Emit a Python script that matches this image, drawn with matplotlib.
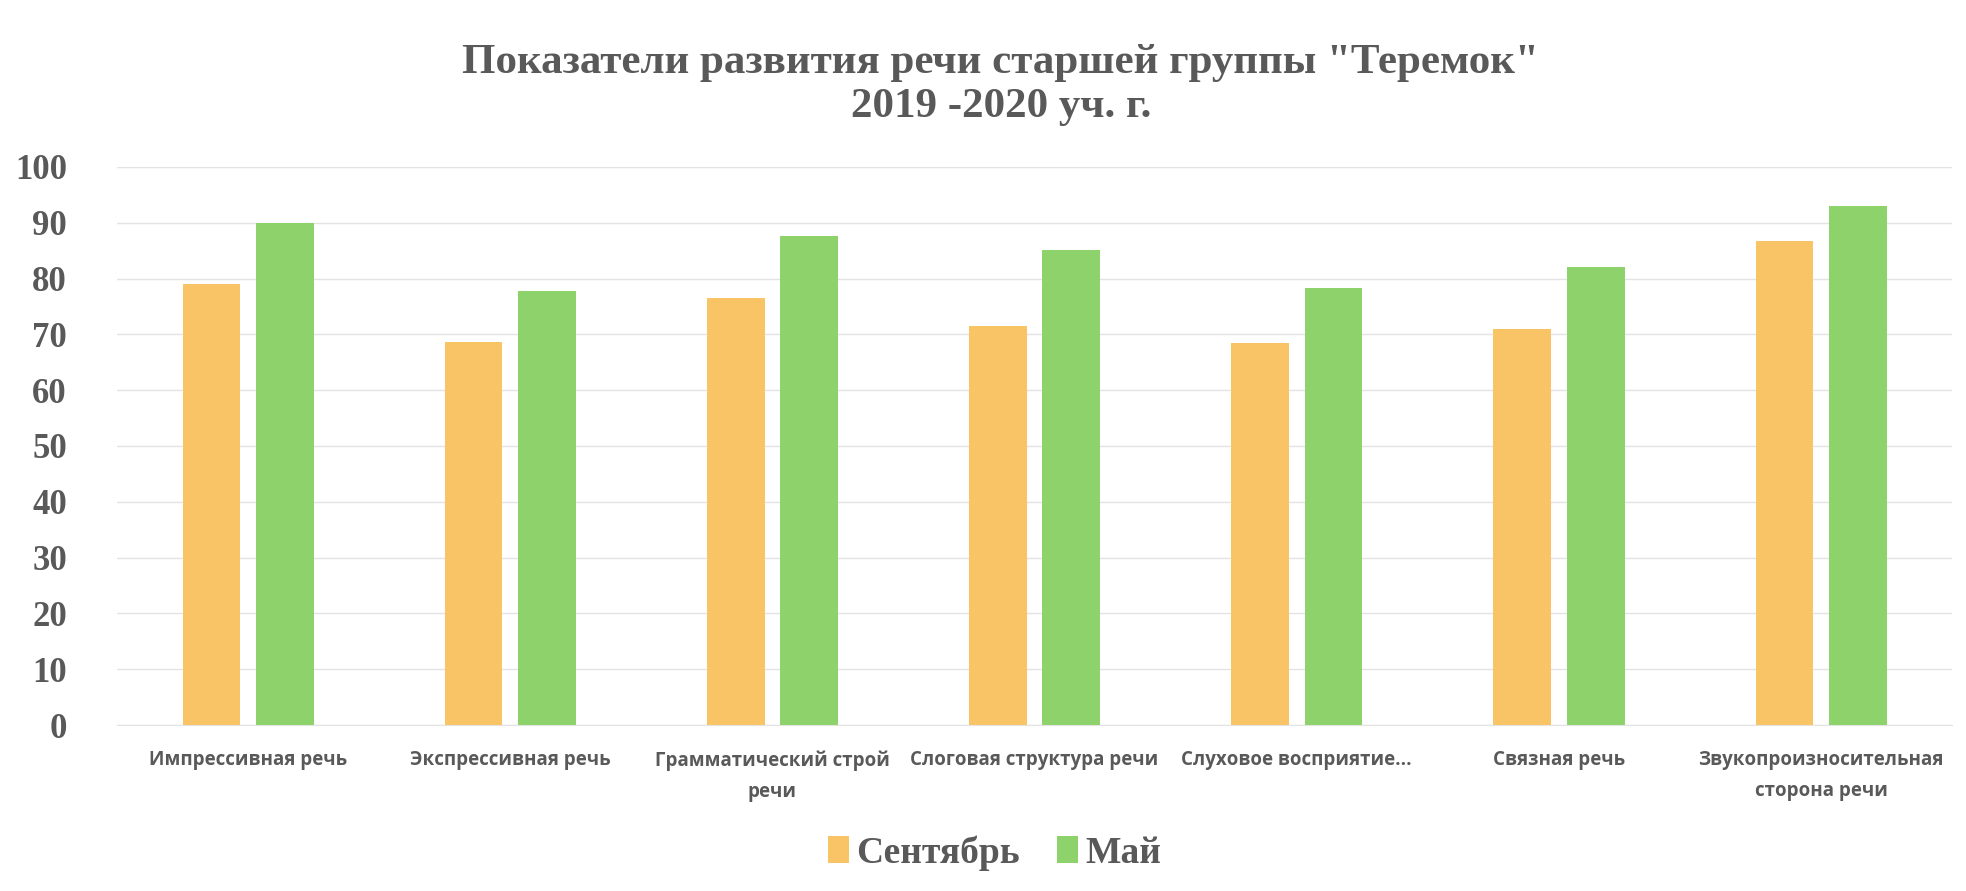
import matplotlib
matplotlib.use("Agg")
import matplotlib.pyplot as plt
import numpy as np

# Data
categories = [
    "Импрессивная речь",
    "Экспрессивная речь",
    "Грамматический строй\nречи",
    "Слоговая структура речи",
    "Слуховое восприятие...",
    "Связная речь",
    "Звукопроизносительная\nсторона речи",
]
september = [79, 68.7, 76.5, 71.5, 68.5, 71, 86.7]
may = [90, 77.7, 87.6, 85.2, 78.4, 82, 93]
series_names = ["Сентябрь", "Май"]
yticks = list(range(0, 101, 10))

title = 'Показатели развития речи старшей группы "Теремок"\n2019 -2020 уч. г.'

sept_color = "#F8C465"
may_color = "#8ED26C"
text_gray = "#595959"

fig = plt.figure(figsize=(19.66, 8.91), dpi=100)
ax = fig.add_axes([0.0595, 0.1863, 0.9335, 0.6263])

x = np.arange(len(categories))
w = 0.22
off = 0.14
ax.bar(x - off, september, width=w, color=sept_color, label=series_names[0], zorder=3)
ax.bar(x + off, may, width=w, color=may_color, label=series_names[1], zorder=3)

ax.set_xlim(-0.5, len(categories) - 0.5)
ax.set_ylim(0, 100)
ax.set_yticks(yticks)
ax.set_yticklabels([str(t) for t in yticks], fontfamily="Liberation Serif",
                   fontweight="bold", fontsize=25, color=text_gray)
ax.set_xticks(x)
ax.set_xticklabels(categories, fontfamily="Open Sans", fontweight="bold",
                   fontsize=13.5, color=text_gray, linespacing=1.75)
ax.tick_params(axis="y", length=0, pad=36)
ax.tick_params(axis="x", length=0, pad=18)

ax.grid(axis="y", color="#E3E3E3", linewidth=1, zorder=0)
for s in ["top", "right", "left"]:
    ax.spines[s].set_visible(False)
ax.spines["bottom"].set_color("#E3E3E3")

fig.text(0.509, 1 - 85 / 891, title, ha="center", va="center",
         fontfamily="Liberation Serif", fontweight="bold", fontsize=31,
         color=text_gray, linespacing=1.2)

leg = fig.legend(loc="center", bbox_to_anchor=(0.506, 1 - 853 / 891), ncol=2,
                 frameon=False, handlelength=0.55, handleheight=0.75,
                 handletextpad=0.2, columnspacing=1.0,
                 prop={"family": "Liberation Serif", "weight": "bold", "size": 27})
for t in leg.get_texts():
    t.set_color(text_gray)

fig.savefig("out.png", dpi=100, facecolor="white")
